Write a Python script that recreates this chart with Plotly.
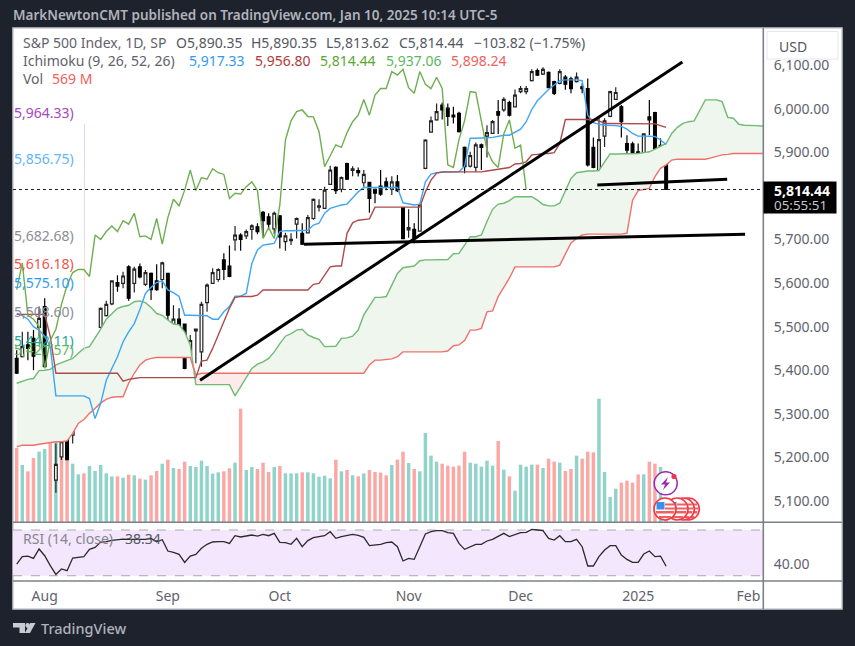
import plotly.graph_objects as go

W = 855
H = 646

opens = [5427,5431,5458,5473,5498,5546,5375,5148,5201,5291,5251,5312,5348,5374,5437,5498,5525,5552,5601,5599,
         5637,5599,5637,5597,5622,5605,5608,5622,5501,5517,5506,5435,5490,5442,5555,5599,5608,5653,5639,5699,
         5710,5708,5723,5729,5762,5752,5724,5754,5695,5697,5735,5714,5715,5748,5774,5771,5826,5865,5815,5874,
         5858,5858,5830,5831,5815,5822,5832,5815,5832,5773,5722,5723,5719,5863,5946,5974,6008,6001,5985,5989,
         5911,5868,5865,5917,5937,5943,5993,5997,6014,6004,6039,6039,6064,6087,6079,6083,6062,6058,6072,6068,
         6062,6050,6046,5911,5836,5937,5982,6021,6004,5920,5919,5901,5888,5981,5991,5907,5890.35]
highs = [5446,5488,5488,5492,5546,5565,5377,5232,5310,5325,5322,5354,5370,5434,5461,5544,5559,5606,5618,5626,
         5641,5637,5645,5630,5624,5643,5649,5623,5549,5542,5507,5481,5495,5557,5599,5634,5634,5668,5686,5731,
         5714,5723,5735,5737,5765,5760,5764,5756,5715,5714,5750,5737,5756,5794,5792,5821,5869,5868,5844,5876,
         5868,5865,5859,5832,5817,5859,5842,5845,5848,5773,5769,5737,5781,5930,5982,6012,6014,6012,6004,5993,
         5913,5901,5922,5920,5962,5974,6020,6026,6018,6044,6052,6052,6090,6092,6095,6085,6064,6090,6077,6073,
         6083,6058,6069,5934,5982,5978,6041,6049,6008,5939,5924,5920,5943,6020,5993,5932,5890.35]
lows = [5391,5429,5423,5400,5477,5406,5301,5119,5194,5194,5232,5301,5324,5372,5414,5496,5523,5549,5580,5588,
        5559,5578,5611,5593,5561,5582,5588,5503,5500,5478,5402,5431,5416,5408,5534,5598,5603,5607,5613,5674,
        5674,5701,5699,5712,5705,5725,5712,5679,5674,5687,5702,5687,5714,5745,5764,5770,5825,5804,5808,5836,
        5845,5844,5821,5761,5783,5800,5813,5802,5809,5701,5704,5691,5718,5861,5945,5972,5975,5960,5966,5945,
        5852,5865,5855,5859,5888,5942,5942,5993,5982,6003,6035,6033,6062,6075,6077,6047,6031,6056,6043,6035,
        6060,6035,5867,5863,5832,5912,5980,6020,5934,5878,5868,5830,5886,5939,5905,5874,5813.62]
closes = [5393,5454,5450,5432,5519,5408,5343,5184,5236,5195,5316,5341,5342,5432,5454,5542,5551,5605,5593,5616,
          5565,5632,5614,5624,5585,5585,5646,5526,5517,5500,5404,5468,5494,5551,5595,5624,5631,5631,5615,5710,
          5700,5718,5731,5718,5743,5735,5760,5706,5708,5700,5748,5689,5750,5792,5777,5813,5859,5812,5842,5838,
          5862,5853,5849,5794,5806,5804,5821,5832,5812,5702,5727,5702,5779,5928,5972,5993,5997,5982,5981,5947,
          5867,5892,5917,5911,5945,5970,5985,6021,5985,6031,6046,6046,6085,6077,6090,6048,6035,6085,6056,6046,
          6072,6046,5871,5865,5929,5972,6039,6037,5970,5905,5878,5865,5942,5974,5909,5916,5814.44]

# millions of shares
volumes = [4884,3762,3344,4224,4642,4818,5654,5742,5390,5280,3850,3146,3212,3696,3366,3762,3212,3014,3014,2926,
           3124,3080,2860,2794,3080,3366,3850,4114,3564,3498,3982,3696,3630,4048,3696,3190,3278,3344,3542,3916,
           7480,3432,3630,3498,3916,3300,3630,3696,3212,3212,3212,3278,3278,3212,2992,3058,2882,4114,3344,3432,
           3080,3014,3212,3432,3300,3256,3080,3762,4114,4642,3894,3498,3344,5874,4378,3982,3850,3718,3652,3718,
           4642,3916,3850,3652,4048,3718,5346,3454,3014,2068,3784,3652,3784,3784,3564,4180,3982,3916,3366,3498,
           4378,4180,4642,4598,8140,3300,1650,2200,2596,2728,2596,3146,3146,3982,3850,3630,569]
vol_side = "PTPPTTPTPPTTPTTTTTPTPTPTPPTPTPPTTTTTTPPTPTTPPPTPTTTPTTTTTPTPTPTPPPPTPPTPTTTTPPPPPTTTTTPTPTTTTPTPPTPPTPPPTTTTPPPPTPPTP"

tenkan = [5530,5525,5517,5500,5492,5478,5454,5341,5341,5341,5341,5341,5341,5335,5289,5324,5377,5404,5431,5465,
          5488,5507,5539,5576,5590,5601,5605,5584,5578,5569,5526,5526,5526,5526,5525,5517,5517,5534,5546,5570,
          5570,5576,5645,5676,5687,5689,5691,5718,5720,5720,5720,5720,5721,5733,5737,5760,5771,5775,5779,5781,
          5794,5809,5819,5819,5819,5819,5819,5819,5819,5784,5781,5779,5781,5832,5850,5853,5854,5854,5854,5855,
          5868,5932,5932,5932,5933,5934,5937,5939,5939,5947,5953,5970,5998,6018,6031,6044,6054,6064,6066,6066,
          6066,6064,5985,5968,5964,5962,5962,5961,5959,5953,5943,5937,5937,5937,5936,5928,5917.33]
kijun = [5528,5528,5528,5528,5528,5528,5477,5393,5393,5393,5393,5393,5393,5393,5393,5393,5393,5393,5393,5375,
         5379,5381,5383,5383,5383,5383,5383,5383,5383,5383,5383,5383,5383,5421,5423,5450,5481,5515,5542,5567,
         5569,5569,5569,5572,5584,5584,5584,5584,5584,5584,5584,5584,5584,5597,5599,5618,5637,5639,5639,5714,
         5738,5744,5746,5747,5774,5774,5774,5774,5774,5774,5774,5774,5774,5809,5836,5852,5855,5855,5855,5855,
         5855,5855,5855,5855,5857,5859,5861,5863,5865,5873,5874,5878,5894,5895,5897,5897,5899,5920,5975,5975,
         5975,5975,5975,5975,5972,5966,5966,5966,5966,5966,5966,5966,5966,5966,5965,5961,5956.80]
span_a = [5370,5375,5379,5381,5399,5400,5402,5412,5417,5422,5427,5439,5450,5454,5473,5494,5517,5530,5542,5546,
          5549,5557,5559,5555,5544,5530,5526,5515,5506,5504,5488,5458,5367,5367,5367,5367,5367,5367,5367,5341,
          5362,5383,5404,5414,5419,5427,5442,5461,5478,5484,5492,5494,5481,5475,5471,5454,5454,5455,5473,5474,
          5478,5492,5527,5546,5567,5567,5569,5595,5622,5635,5637,5639,5651,5653,5653,5653,5653,5654,5667,5668,
          5687,5706,5706,5710,5741,5769,5781,5783,5789,5798,5798,5798,5798,5790,5780,5777,5777,5783,5813,5840,
          5853,5855,5857,5857,5858,5878,5896,5896,5896,5896,5896,5897,5899,5901,5907,5913,5920,5943,5957,5966,
          5970,5972,5995,6020,6020,6020,6016,5980,5978,5964,5962,5962,5961,5960,5960]
span_b = [5224,5228,5228,5228,5230,5232,5234,5236,5236,5238,5255,5278,5287,5301,5312,5325,5333,5338,5339,5339,
          5370,5393,5412,5423,5427,5429,5429,5429,5429,5429,5429,5429,5389,5393,5393,5393,5393,5393,5393,5393,
          5393,5393,5393,5393,5393,5393,5393,5393,5393,5393,5393,5393,5393,5393,5393,5393,5393,5393,5393,5393,
          5393,5393,5393,5412,5423,5423,5425,5426,5431,5442,5442,5442,5442,5442,5442,5442,5442,5444,5456,5458,
          5468,5492,5492,5496,5534,5536,5569,5590,5611,5637,5637,5637,5637,5637,5637,5637,5637,5641,5668,5692,
          5702,5710,5712,5712,5712,5712,5712,5712,5712,5714,5790,5812,5815,5817,5844,5863,5871,5882,5884,5884,
          5884,5884,5884,5884,5887,5890,5894,5895,5897,5897,5897,5897,5897,5897,5897]
rsi = [40.2,46.7,47.2,45.2,53.4,47.5,38.8,31.2,35.9,34.4,45.5,46.1,46.7,53.1,54.8,59.5,59.8,61,61.8,62.1,
       61.8,61.8,61.5,61.8,62.7,59.8,61.5,51.6,50.5,48.7,41.7,47.2,48.7,54,57.5,59.5,59.8,59.8,58.3,65,
       63.9,64.7,65.6,64.7,66.2,65,67.1,59.2,58.9,57.5,62.7,55.4,60.7,63.3,63.9,65,68.5,62.7,64.2,65,
       66.2,65.3,63.6,56.3,56.9,57.5,58.9,59.5,55.4,42.9,45.2,44.3,55.4,66.5,68.5,69.4,69.4,67.7,67.1,58.3,
       53.1,55.4,57.5,57.5,60.4,61.8,64.2,67.1,64.2,66.2,67.7,68,70.6,70,69.4,62.7,61.2,65,59.8,59.8,
       61.8,55.4,38.5,38.5,46.7,52.5,56.3,56.3,48.1,44.3,41.7,41.7,49,51.6,46.7,47.2,38.34]

# hand drawn lines: bar number, price
trend_up_x = [32.75, 118.9]
trend_up_y = [5377, 6107]
trend_low_x = [51.3, 130.1]
trend_low_y = [5689, 5712]
trend_short_x = [103.7, 126.9]
trend_short_y = [5825, 5838]

fib_levels = [5964.33, 5856.75, 5682.68, 5616.18, 5575.10, 5508.60, 5442.11]
fib_colors = ["#dcd3f0", "#dcdcf2", "#f3dcd8", "#f3d8d0", "#cfe6f0", "#cfe8ea"]
fib_bar = 12.1

month_pos = [5, 27, 47, 70, 90, 111, 130.7]
month_names = ["Aug", "Sep", "Oct", "Nov", "Dec", "2025", "Feb"]
price_ticks = [5100, 5200, 5300, 5400, 5500, 5600, 5700, 5900, 6000, 6100]

assert len(opens) == len(highs) == len(lows) == len(closes) == len(volumes) == len(tenkan) == len(kijun) == len(rsi) == 117
assert len(vol_side) == 117 and len(span_a) == 135 and len(span_b) == 135

FONT = "Noto Sans"
GRAY = "#5f626c"
bars = list(range(len(closes)))
span_x = list(range(len(span_a)))


def px(x):
    return x / W


def py(y):
    return 1 - y / H


fig = go.Figure()

# volume sits on the base axis so that candles come out on top
fig.add_trace(go.Bar(x=bars, y=volumes, width=0.62, yaxis="y",
                     marker=dict(color=["#8fd3c9" if s == "T" else "#fba8a5" for s in vol_side], line_width=0)))

# cloud
low_edge = [min(a, b) for a, b in zip(span_a, span_b)]
high_edge = [max(a, b) for a, b in zip(span_a, span_b)]
fig.add_trace(go.Scatter(x=span_x, y=low_edge, yaxis="y2", mode="lines", line=dict(width=0, color="rgba(0,0,0,0)")))
fig.add_trace(go.Scatter(x=span_x, y=span_a, yaxis="y2", mode="lines", line=dict(width=0, color="rgba(0,0,0,0)"),
                         fill="tonexty", fillcolor="#eef6ee"))
fig.add_trace(go.Scatter(x=span_x, y=span_a, yaxis="y2", mode="lines", line=dict(width=0, color="rgba(0,0,0,0)")))
fig.add_trace(go.Scatter(x=span_x, y=high_edge, yaxis="y2", mode="lines", line=dict(width=0, color="rgba(0,0,0,0)"),
                         fill="tonexty", fillcolor="#fdeaea"))

fig.add_trace(go.Scatter(x=span_x, y=span_a, yaxis="y2", mode="lines", line=dict(color="#6fbb72", width=1.4)))
fig.add_trace(go.Scatter(x=span_x, y=span_b, yaxis="y2", mode="lines", line=dict(color="#f0706c", width=1.4)))

# fib column on the left, one piece per level
for n in range(len(fib_colors)):
    fig.add_trace(go.Scatter(x=[fib_bar, fib_bar], y=fib_levels[n:n + 2], yaxis="y2", mode="lines",
                             line=dict(color=fib_colors[n], width=1)))

fig.add_trace(go.Scatter(x=bars, y=tenkan, yaxis="y2", mode="lines", line=dict(color="#3ea6f5", width=1.4)))
fig.add_trace(go.Scatter(x=bars, y=kijun, yaxis="y2", mode="lines", line=dict(color="#ac4b4b", width=1.4)))
# lagging span is the close pushed back 25 bars
fig.add_trace(go.Scatter(x=bars[:-25], y=closes[25:], yaxis="y2", mode="lines", line=dict(color="#6fae50", width=1.4)))

fig.add_trace(go.Candlestick(x=bars, open=opens, high=highs, low=lows, close=closes, yaxis="y2", whiskerwidth=0,
                             increasing=dict(fillcolor="#ffffff", line=dict(color="#222222", width=1.2)),
                             decreasing=dict(fillcolor="#000000", line=dict(color="#000000", width=1.2))))

for tx, ty in [(trend_up_x, trend_up_y), (trend_low_x, trend_low_y), (trend_short_x, trend_short_y)]:
    fig.add_trace(go.Scatter(x=tx, y=ty, yaxis="y2", mode="lines", line=dict(color="#000000", width=3)))

fig.add_trace(go.Scatter(x=bars, y=rsi, yaxis="y3", mode="lines", line=dict(color="#2b2b2b", width=1.3)))

shapes = []


def rect(x0, y0, x1, y1, fill, line=None, lw=0, layer="above"):
    shapes.append(dict(type="rect", xref="paper", yref="paper", x0=px(x0), x1=px(x1), y0=py(y0), y1=py(y1),
                       fillcolor=fill, line=dict(color=line or fill, width=lw), layer=layer))


def hline(x0, x1, y, color, width):
    shapes.append(dict(type="line", xref="paper", yref="paper", x0=px(x0), x1=px(x1), y0=py(y), y1=py(y),
                       line=dict(color=color, width=width), layer="above"))


def disc(cx, cy, r, fill, line, lw):
    shapes.append(dict(type="circle", xref="paper", yref="paper", x0=px(cx - r), x1=px(cx + r), y0=py(cy + r),
                       y1=py(cy - r), fillcolor=fill, line=dict(color=line, width=lw), layer="above"))


def poly(points, fill):
    d = "M " + " L ".join("%.5f,%.5f" % (px(a), py(b)) for a, b in points) + " Z"
    shapes.append(dict(type="path", xref="paper", yref="paper", path=d, fillcolor=fill,
                       line=dict(color=fill, width=0), layer="above"))


rect(13, 28, 842, 609, "#ffffff", "#c9cacf", 1.5, layer="below")

# rsi band
shapes.append(dict(type="rect", xref="x domain", yref="y3", x0=0, x1=1, y0=30, y1=70,
                   fillcolor="#f4e6fc", line_width=0, layer="below"))
for level in [30, 70]:
    shapes.append(dict(type="line", xref="x domain", yref="y3", x0=0, x1=1, y0=level, y1=level,
                       line=dict(color="#a9a9ad", width=1, dash="dash"), layer="below"))

# last price
shapes.append(dict(type="line", xref="x domain", yref="y2", x0=0, x1=1, y0=closes[-1], y1=closes[-1],
                   line=dict(color="#222222", width=1, dash="dot"), layer="above"))

# pane borders
shapes.append(dict(type="line", xref="paper", yref="paper", x0=px(763.3), x1=px(763.3), y0=py(609), y1=py(28),
                   line=dict(color="#7d8089", width=1.6), layer="above"))
hline(13, 842, 522.3, "#7d8089", 1.6)
hline(13, 842, 581, "#7d8089", 1.6)

# USD box and price tag
rect(767, 31.5, 838, 59, "#ffffff", "#e6e7ee", 1)
rect(763.5, 181.5, 836.5, 213.5, "#000000")

# event icons
disc(665.7, 483.3, 11.5, "rgba(255,255,255,0.85)", "#9c27b0", 1.5)
poly([(668, 477), (661, 484.5), (665, 484.5), (663, 490), (670, 482.5), (666, 482.5)], "#9c27b0")
disc(674, 476.5, 2.6, "#f23645", "#f23645", 0)
for cx in [688.3, 683.3, 677, 665]:
    disc(cx, 509, 11, "#ffffff", "#f23645", 1.6)
    rect(cx - 9, 511, cx + 9, 513.5, "#f0605e")
    rect(cx - 6, 516, cx + 6, 518, "#f0605e")
    rect(cx, 503.5, cx + 9, 505.5, "#f0605e")
    rect(cx, 507.5, cx + 10, 509.5, "#f0605e")
    rect(cx - 8.5, 502, cx - 0.5, 509.5, "#3d8fe8")

# logo
poly([(13, 623), (25, 623), (25, 633), (19.5, 633), (19.5, 627.5), (13, 627.5)], "#c9cbd2")
disc(27.7, 625.5, 2.4, "#c9cbd2", "#c9cbd2", 0)
poly([(30.5, 623), (35.5, 623), (30, 633), (24.8, 633)], "#c9cbd2")

annotations = []


def label(x, y, text, color=GRAY, size=14, anchor="left", weight=None):
    annotations.append(dict(xref="paper", yref="paper", x=px(x), y=py(y), text=text, showarrow=False,
                            xanchor=anchor, yanchor="middle", align="left", borderpad=0,
                            font=dict(family=FONT, size=size, color=color, weight=weight)))


label(12, 15, "MarkNewtonCMT published on TradingView.com, Jan 10, 2025 10:14 UTC-5", "#b0b3bb", 13.5, weight=600)

label(22, 43, "S&amp;P 500 Index, 1D, SP")
label(175, 43, "O5,890.35", "#55585f")
label(250, 43, "H5,890.35", "#55585f")
label(325, 43, "L5,813.62", "#55585f")
label(398, 43, "C5,814.44", "#55585f")
label(473, 43, "\u2212103.82 (\u22121.75%)", "#55585f")

label(22, 61, "Ichimoku (9, 26, 52, 26)")
label(188, 61, "5,917.33", "#2f9bf0")
label(254, 61, "5,956.80", "#b03a3a")
label(319, 61, "5,814.44", "#5aa832")
label(385, 61, "5,937.06", "#5cb85f")
label(450, 61, "5,898.24", "#f0605c")

label(22, 79, "Vol")
label(51, 79, "569 M", "#f0605c")

label(13, 112, "5,964.33)", "#a845c0")
label(13, 158.5, "5,856.75)", "#64b5f6")
label(13, 235.5, "5,682.68)", "#8c8e96")
label(13, 263.5, "5,616.18)", "#ef5350")
label(13, 282.5, "5,575.10)", "#2f9bf0")
label(13, 311, "5,508.60)", "#8c8e96")
label(13, 340, "5,442.11)", "#26a69a")
label(13, 349, "5,421.57)", "#5cb85f")

label(22, 538, "RSI (14, close)", "#85878f")
label(124, 538, "38.34", "#55585f")

label(778, 46, "USD", "#55585f")
label(773, 190, "5,814.44", "#ffffff", 14, weight=700)
label(773, 204.5, "05:55:51", "#c8c8c8", 13.4)
label(40, 627.5, "TradingView", "#b0b3bb", 14.5, weight=500)

fig.update_layout(
    width=W, height=H, margin=dict(l=0, r=0, t=0, b=0), showlegend=False, barmode="overlay",
    paper_bgcolor="#1e222d", plot_bgcolor="rgba(0,0,0,0)", font=dict(family=FONT, size=14, color=GRAY),
    shapes=shapes, annotations=annotations, hovermode=False,
    xaxis=dict(domain=[px(13), px(763)], range=[-0.66, 133.3], anchor="y3", rangeslider=dict(visible=False),
               tickmode="array", tickvals=month_pos, ticktext=month_names, showgrid=False, zeroline=False,
               ticks="outside", ticklen=2, tickcolor="rgba(0,0,0,0)", showline=False, tickangle=0),
    yaxis=dict(domain=[py(522), py(28)], range=[0, 32600], visible=False, fixedrange=True),
    yaxis2=dict(overlaying="y", side="right", anchor="x", range=[5051.8, 6184.9], tickmode="array",
                tickvals=price_ticks, tickformat=",.2f", showgrid=False, zeroline=False, ticks="outside",
                ticklen=7, tickcolor="rgba(0,0,0,0)", tickfont=dict(size=14, family=FONT, color=GRAY)),
    yaxis3=dict(domain=[py(581), py(522)], side="right", anchor="x", range=[25.4, 77], tickmode="array",
                tickvals=[40], tickformat=".2f", showgrid=False, zeroline=False, ticks="outside",
                ticklen=7, tickcolor="rgba(0,0,0,0)", tickfont=dict(size=14, family=FONT, color=GRAY)),
)

fig.write_html("out.html", config=dict(displayModeBar=False),
               post_script="document.body.style.margin='0';")
